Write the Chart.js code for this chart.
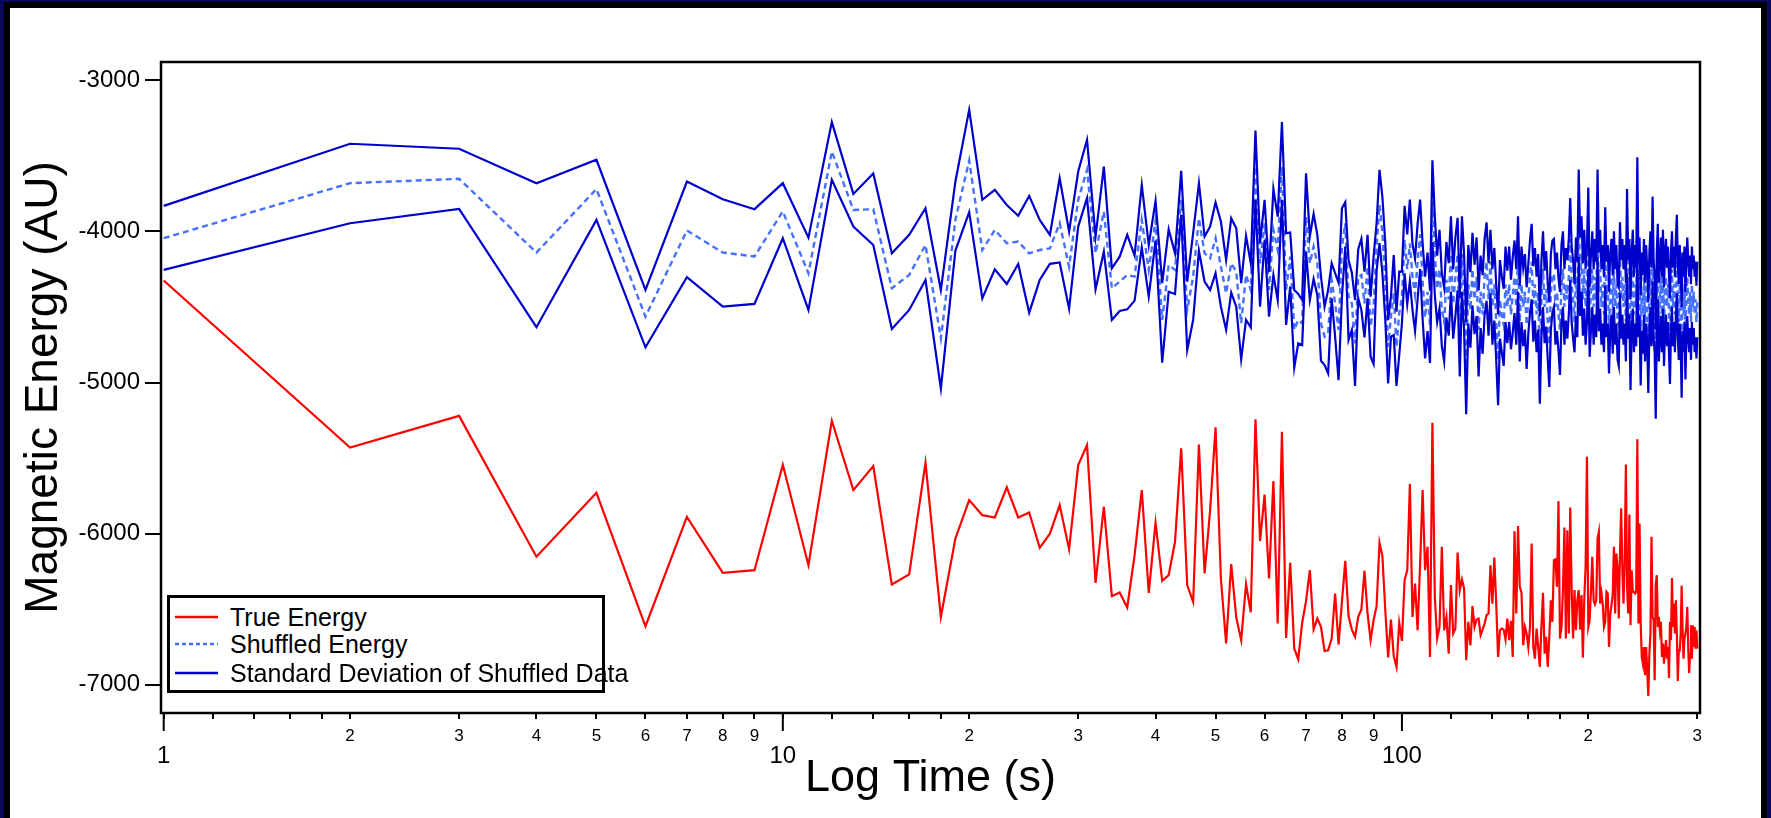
<!DOCTYPE html>
<html>
<head>
<meta charset="utf-8">
<title>Magnetic Energy vs Log Time</title>
<script src="https://cdn.jsdelivr.net/npm/chart.js@4.4.1/dist/chart.umd.min.js"></script>
<style>
  html, body { margin: 0; padding: 0; width: 1771px; height: 818px; overflow: hidden; background: #0a0a5c; }
  #panel { position: absolute; left: 4px; top: 2px; width: 1763px; height: 820px; background: #fff;
           border: 6px solid #000; border-bottom: none; box-sizing: border-box; }
  #chart { position: absolute; left: 0; top: 0; }
  #legend { position: absolute; left: 167px; top: 595px; width: 438px; height: 98px;
            border: 3px solid #000; box-sizing: border-box; background: #fff;
            font-family: "Liberation Sans", Arial, sans-serif; font-size: 25px; color: #000; }
  #legend .row { position: absolute; left: 5px; height: 28px; line-height: 28px; white-space: nowrap; }
  #legend svg { position: absolute; left: 0; top: 11px; }
  #legend span { position: absolute; left: 55px; top: 0; }
</style>
</head>
<body>
<div id="panel"></div>
<canvas id="chart" width="1771" height="818"></canvas>
<div id="legend"></div>
<script>
// time axis: one sample per second, 1..300 s
const times = Array.from({ length: 300 }, (_, i) => i + 1)

const seriesNames = ["True Energy", "Shuffled Energy", "Standard Deviation of Shuffled Data"]

const trueEnergy = [
  -4325, -5430, -5221, -6153, -5730, -6613, -5889, -6259, -6242, -5544,
  -6209, -5253, -5712, -5553, -6337, -6270, -5531, -6551, -6032, -5778,
  -5878, -5893, -5694, -5893, -5860, -6094, -6000, -5811, -6103, -5546,
  -5414, -6326, -5822, -6414, -6390, -6489, -6142, -5712, -6392, -5928,
  -6312, -6275, -6054, -5436, -6341, -6452, -5410, -6264, -5844, -5297,
  -6297, -6727, -6202, -6555, -6705, -6335, -6520, -5244, -6048, -5741,
  -6297, -5652, -6595, -5326, -6690, -6193, -6761, -6831, -6591, -6447,
  -6242, -6633, -6562, -6617, -6776, -6772, -6694, -6396, -6734, -6452,
  -6180, -6547, -6635, -6683, -6551, -6502, -6246, -6529, -6705, -6573,
  -6480, -6061, -6149, -6507, -6820, -6569, -6811, -6882, -6591, -6710,
  -6306, -6242, -5672, -6551, -6330, -6639, -6198, -5712, -6242, -6087,
  -6816, -5266, -6418, -6694, -6617, -6087, -6639, -6551, -6794, -6341,
  -6661, -6628, -6125, -6374, -6304, -6363, -6838, -6584, -6739, -6480,
  -6617, -6568, -6562, -6672, -6635, -6595, -6540, -6529, -6209, -6463,
  -6158, -6463, -6816, -6639, -6628, -6635, -6701, -6562, -6705, -6577,
  -6816, -5984, -6529, -5950, -6352, -6390, -6739, -6617, -6661, -6750,
  -6617, -6065, -6750, -6827, -6628, -6750, -6882, -6617, -6392, -6794,
  -6683, -6882, -6683, -6441, -6584, -6176, -6171, -6352, -5785, -6694,
  -6617, -6374, -5959, -6694, -5977, -6661, -5827, -6374, -6694, -6374,
  -6639, -6441, -6374, -6635, -6407, -6822, -6441, -6220, -5491, -6617,
  -6573, -6374, -6154, -6441, -6467, -6441, -6032, -5988, -6463, -6392,
  -6463, -6617, -6584, -6385, -6396, -6750, -6540, -6474, -6407, -6087,
  -6529, -6131, -6231, -6562, -6131, -5833, -6242, -6463, -6165, -5542,
  -6352, -6529, -5873, -6606, -6242, -6385, -6385, -6396, -6385, -5376,
  -6595, -5933, -6591, -6816, -6860, -6750, -6937, -6750, -6904, -7074,
  -6794, -6661, -6021, -6551, -6573, -6970, -6341, -6275, -6617, -6551,
  -6639, -6584, -6816, -6727, -6860, -6772, -6705, -6827, -6750, -6955,
  -6584, -6705, -6293, -6617, -6463, -6661, -6441, -6661, -6975, -6772,
  -6772, -6661, -6345, -6639, -6827, -6694, -6661, -6617, -6485, -6750,
  -6922, -6794, -6606, -6827, -6606, -6750, -6617, -6761, -6639, -6761
]

const shuffledEnergy = [
  -4045, -3681, -3652, -4140, -3720, -4564, -3994, -4140, -4166, -3868,
  -4277, -3471, -3858, -3853, -4376, -4288, -4090, -4708, -3924, -3531,
  -4123, -3990, -4078, -4067, -4145, -4123, -4112, -3946, -4233, -3791,
  -3593, -4145, -3869, -4376, -4332, -4288, -4299, -3924, -4255, -3930,
  -4586, -4222, -4255, -3791, -4520, -4299, -3913, -4145, -4178, -4045,
  -4233, -4410, -4211, -4266, -4608, -4288, -4388, -3571, -4211, -3946,
  -4388, -3990, -4123, -3571, -4388, -4167, -4652, -4586, -4608, -3902,
  -4211, -4100, -4211, -4608, -4697, -4674, -4321, -4476, -4652, -4100,
  -3946, -4432, -4476, -4741, -4299, -4288, -4476, -4233, -4630, -4498,
  -4100, -3825, -4012, -4343, -4763, -4564, -4410, -4763, -4542, -4432,
  -4056, -4250, -4080, -4300, -4420, -4200, -4020, -4330, -4570, -4400,
  -4620, -3800, -4150, -4380, -4250, -4520, -4600, -4320, -4450, -4150,
  -4480, -4300, -4150, -4700, -4150, -4400, -4900, -4350, -4520, -4250,
  -4450, -4300, -4650, -4400, -4550, -4300, -4200, -4450, -4200, -4500,
  -4350, -4600, -4850, -4450, -4550, -4620, -4350, -4500, -4350, -4550,
  -4420, -4300, -4500, -4150, -4600, -4350, -4500, -4400, -4620, -4450,
  -4300, -4200, -4480, -4350, -4550, -4400, -4850, -4450, -4250, -4500,
  -4380, -4600, -4750, -4400, -4300, -4280, -4500, -4400, -4550, -4650,
  -4350, -4250, -4500, -4350, -4450, -4300, -4050, -4350, -4450, -4600,
  -4300, -4450, -3880, -4300, -4150, -4450, -4250, -4500, -4350, -3980,
  -4600, -4400, -4250, -4500, -4300, -4450, -3880, -4400, -4250, -4500,
  -4350, -4550, -4100, -4450, -4350, -4650, -4400, -4300, -4550, -4250,
  -4500, -4350, -4600, -4620, -4150, -4450, -4300, -4500, -4350, -4600,
  -4000, -4450, -4300, -4750, -4400, -4250, -4550, -4350, -4500, -3800,
  -4450, -4300, -4720, -4400, -4550, -4300, -4600, -4350, -4500, -4770,
  -4400, -4250, -4500, -4050, -4450, -4550, -4950, -4400, -4200, -4600,
  -4450, -4300, -4550, -4250, -4620, -4400, -4300, -4500, -4350, -4550,
  -4700, -4400, -4250, -4500, -4350, -4550, -4300, -4150, -4450, -4600,
  -4350, -4500, -4800, -4400, -4550, -4350, -4650, -4450, -4300, -4450,
  -4550, -4400, -4600, -4350, -4500, -4400, -4550, -4450, -4600, -4450
]

const shuffledUpper = [
  -3831, -3420, -3453, -3681, -3526, -4387, -3670, -3787, -3853, -3681,
  -4041, -3277, -3752, -3617, -4145, -4023, -3847, -4388, -3670, -3195,
  -3791, -3725, -3825, -3897, -3765, -3924, -4023, -3648, -4001, -3604,
  -3394, -4034, -3571, -4244, -4167, -4023, -4160, -3692, -4090, -3798,
  -4343, -3986, -4145, -3599, -4332, -4012, -3681, -4034, -3968, -3809,
  -3935, -4189, -3913, -3979, -4343, -4030, -4211, -3332, -4078, -3791,
  -4266, -3719, -3902, -3277, -4012, -4008, -4388, -4414, -4454, -3615,
  -4034, -3884, -4023, -4299, -4498, -4388, -4211, -4277, -4339, -3847,
  -3807, -4189, -4273, -4454, -4118, -4050, -4266, -4023, -4432, -4167,
  -3946, -3593, -3774, -4078, -4586, -4432, -4156, -4531, -4266, -4266,
  -3831, -4020, -3790, -4080, -4180, -3950, -3790, -4080, -4300, -4140,
  -4390, -3530, -3900, -4160, -3990, -4280, -4370, -4070, -4210, -3900,
  -4250, -4040, -3910, -4440, -3900, -4150, -4600, -4090, -4270, -4010,
  -4220, -4040, -4390, -4160, -4290, -4050, -3940, -4210, -3990, -4250,
  -4110, -4350, -4550, -4190, -4300, -4380, -4100, -4260, -4100, -4320,
  -4170, -4060, -4250, -3900, -4360, -4100, -4240, -4150, -4370, -4220,
  -4060, -3950, -4230, -4110, -4300, -4150, -4560, -4200, -4000, -4260,
  -4130, -4350, -4470, -4150, -4060, -4050, -4250, -4140, -4310, -4400,
  -4090, -4000, -4250, -4110, -4190, -4050, -3780, -4100, -4190, -4350,
  -4040, -4200, -3590, -4040, -3900, -4210, -3990, -4250, -4100, -3710,
  -4370, -4150, -4000, -4250, -4050, -4200, -3590, -4140, -3990, -4250,
  -4090, -4300, -3840, -4200, -4090, -4400, -4140, -4050, -4290, -4000,
  -4250, -4090, -4350, -4370, -3940, -4190, -4050, -4250, -4090, -4340,
  -3720, -4190, -4050, -4450, -4140, -3990, -4300, -4090, -4240, -3510,
  -4200, -4040, -4420, -4140, -4290, -4050, -4340, -4090, -4250, -4470,
  -4140, -4000, -4240, -3770, -4190, -4300, -4650, -4140, -3950, -4340,
  -4200, -4040, -4300, -3990, -4370, -4140, -4050, -4240, -4100, -4290,
  -4440, -4140, -4000, -4240, -4100, -4300, -4040, -3890, -4200, -4350,
  -4090, -4250, -4500, -4140, -4300, -4100, -4400, -4200, -4040, -4190,
  -4300, -4160, -4350, -4100, -4250, -4160, -4300, -4200, -4360, -4200
]

const shuffledLower = [
  -4255, -3946, -3851, -4634, -3924, -4767, -4303, -4498, -4480, -4045,
  -4520, -3659, -3968, -4090, -4646, -4520, -4321, -5039, -4127, -3873,
  -4443, -4251, -4348, -4215, -4538, -4321, -4215, -4206, -4511, -3968,
  -3780, -4383, -4134, -4586, -4527, -4516, -4458, -4107, -4432, -4060,
  -4869, -4399, -4414, -3891, -4785, -4586, -4129, -4332, -4388, -4277,
  -4498, -4652, -4405, -4498, -4847, -4586, -4635, -3791, -4498, -4056,
  -4564, -4288, -4454, -3791, -4619, -4365, -4902, -4741, -4752, -4134,
  -4454, -4315, -4421, -4856, -4884, -4939, -4443, -4697, -4984, -4436,
  -4100, -4719, -4652, -5023, -4443, -4520, -4701, -4443, -4829, -4878,
  -4266, -4078, -4277, -4586, -5006, -4697, -4686, -5023, -4818, -4608,
  -4277, -4480, -4330, -4520, -4660, -4450, -4250, -4580, -4840, -4660,
  -4870, -4070, -4420, -4600, -4510, -4760, -4860, -4570, -4690, -4400,
  -4710, -4560, -4390, -4960, -4400, -4650, -5210, -4610, -4770, -4490,
  -4680, -4560, -4960, -4640, -4810, -4550, -4460, -4690, -4410, -4750,
  -4590, -4850, -5150, -4710, -4800, -4890, -4600, -4740, -4600, -4780,
  -4670, -4540, -4750, -4400, -4860, -4600, -4760, -4650, -4910, -4680,
  -4540, -4450, -4730, -4590, -4800, -4650, -5140, -4700, -4500, -4740,
  -4630, -4850, -5030, -4650, -4540, -4500, -4750, -4660, -4790, -4950,
  -4610, -4500, -4750, -4590, -4710, -4550, -4320, -4600, -4710, -4800,
  -4560, -4700, -4170, -4560, -4400, -4690, -4510, -4750, -4600, -4250,
  -4830, -4650, -4500, -4750, -4550, -4700, -4170, -4660, -4510, -4750,
  -4610, -4800, -4360, -4700, -4610, -4940, -4660, -4550, -4810, -4500,
  -4750, -4610, -4850, -4890, -4410, -4710, -4550, -4750, -4610, -4860,
  -4280, -4710, -4550, -5050, -4660, -4510, -4800, -4610, -4760, -4090,
  -4700, -4560, -5020, -4660, -4810, -4550, -4860, -4610, -4750, -5070,
  -4660, -4500, -4760, -4330, -4710, -4800, -5240, -4660, -4450, -4860,
  -4700, -4560, -4800, -4510, -4890, -4660, -4550, -4760, -4600, -4810,
  -5010, -4660, -4500, -4760, -4600, -4800, -4560, -4410, -4700, -4850,
  -4610, -4750, -5100, -4660, -4800, -4600, -4980, -4700, -4560, -4710,
  -4800, -4640, -4850, -4600, -4750, -4640, -4800, -4700, -4840, -4700
]

// axis ticks
const yTickValues = [-7000, -6000, -5000, -4000, -3000]
const xMajorTicks = [1, 10, 100]
const xDigitTicks = [2, 3, 4, 5, 6, 7, 8, 9, 20, 30, 40, 50, 60, 70, 80, 90, 200, 300]
const xPlainTicks = [1.2, 1.4, 1.6, 1.8, 12, 14, 16, 18, 120, 140, 160, 180]

const RED = "#ff0000"
const LIGHT_BLUE = "#4670ff"
const DARK_BLUE = "#0000cc"

Chart.defaults.font.family = '"Liberation Sans", Arial, sans-serif'
Chart.defaults.color = "#000"

function pts(values) {
  return values.map((v, i) => ({ x: times[i], y: v }))
}

// frame round the plot + long ticks at the decades
const framePlugin = {
  id: "frame",
  afterDatasetsDraw(chart) {
    const { ctx, chartArea } = chart
    const xs = chart.scales.x
    ctx.save()
    ctx.strokeStyle = "#000"
    ctx.lineWidth = 2.5
    ctx.strokeRect(chartArea.left, chartArea.top, chartArea.right - chartArea.left, chartArea.bottom - chartArea.top)
    ctx.lineWidth = 2
    xMajorTicks.forEach(v => {
      const px = xs.getPixelForValue(v)
      ctx.beginPath()
      ctx.moveTo(px, chartArea.bottom)
      ctx.lineTo(px, chartArea.bottom + 18)
      ctx.stroke()
    })
    ctx.restore()
  }
}

new Chart(document.getElementById("chart"), {
  type: "line",
  data: {
    datasets: [
      { label: seriesNames[2], data: pts(shuffledUpper), borderColor: DARK_BLUE, borderWidth: 2.2, order: 1 },
      { label: seriesNames[2], data: pts(shuffledLower), borderColor: DARK_BLUE, borderWidth: 2.2, order: 1 },
      { label: seriesNames[1], data: pts(shuffledEnergy), borderColor: LIGHT_BLUE, borderWidth: 2.4, borderDash: [6, 4], order: 2 },
      { label: seriesNames[0], data: pts(trueEnergy), borderColor: RED, borderWidth: 2.2, order: 3 }
    ]
  },
  options: {
    responsive: false,
    animation: false,
    devicePixelRatio: 1,
    layout: { padding: { top: 62, right: 71, left: 0, bottom: 0 } },
    elements: { point: { radius: 0 }, line: { tension: 0 } },
    plugins: { legend: { display: false }, tooltip: { enabled: false } },
    scales: {
      x: {
        type: "logarithmic",
        min: 0.99,
        max: 303,
        afterFit(scale) { scale.height = 105 },
        afterBuildTicks(scale) {
          scale.ticks = [...xMajorTicks, ...xDigitTicks, ...xPlainTicks]
            .sort((a, b) => a - b)
            .map(v => ({ value: v }))
        },
        border: { display: false },
        grid: { drawOnChartArea: false, drawTicks: true, tickLength: 6, color: "#000", lineWidth: 2 },
        ticks: {
          autoSkip: false,
          maxRotation: 0,
          minRotation: 0,
          padding: 7,
          color: "#000",
          font: (ctx) => {
            const v = ctx.tick ? ctx.tick.value : 0
            return xMajorTicks.includes(v) ? { size: 24, lineHeight: 0.85 } : { size: 17, lineHeight: 1.2 }
          },
          callback: (value) => {
            if (xMajorTicks.includes(value)) return ["", String(value)]
            if (xDigitTicks.includes(value)) return String(value).charAt(0)
            return ""
          }
        },
        title: { display: true, text: "Log Time (s)", color: "#000", font: { size: 45 }, padding: { top: 0, bottom: 12 } }
      },
      y: {
        min: -7187,
        max: -2879,
        afterFit(scale) { scale.width = 161 },
        afterBuildTicks(scale) { scale.ticks = yTickValues.map(v => ({ value: v })) },
        border: { display: false },
        grid: { drawOnChartArea: false, drawTicks: true, tickLength: 16, color: "#000", lineWidth: 2 },
        ticks: { padding: 5, color: "#000", font: { size: 24 }, callback: (v) => String(v) },
        title: { display: true, text: "Magnetic Energy (AU)", color: "#000", font: { size: 46 }, padding: { top: 17, bottom: 0 } }
      }
    }
  },
  plugins: [framePlugin]
})

// legend box sitting inside the plot, bottom-left
const legendStyles = [
  { color: RED, dash: null },
  { color: LIGHT_BLUE, dash: "4 3" },
  { color: DARK_BLUE, dash: null }
]
const legendRowTops = [5, 32, 61]
const legend = document.getElementById("legend")
seriesNames.forEach((name, i) => {
  const row = document.createElement("div")
  row.className = "row"
  row.style.top = legendRowTops[i] + "px"
  const s = legendStyles[i]
  row.innerHTML =
    '<svg width="44" height="6"><line x1="0" y1="3" x2="43" y2="3" stroke="' + s.color + '" stroke-width="2.5"' +
    (s.dash ? ' stroke-dasharray="' + s.dash + '"' : "") + '/></svg><span>' + name + "</span>"
  legend.appendChild(row)
})
</script>
</body>
</html>
